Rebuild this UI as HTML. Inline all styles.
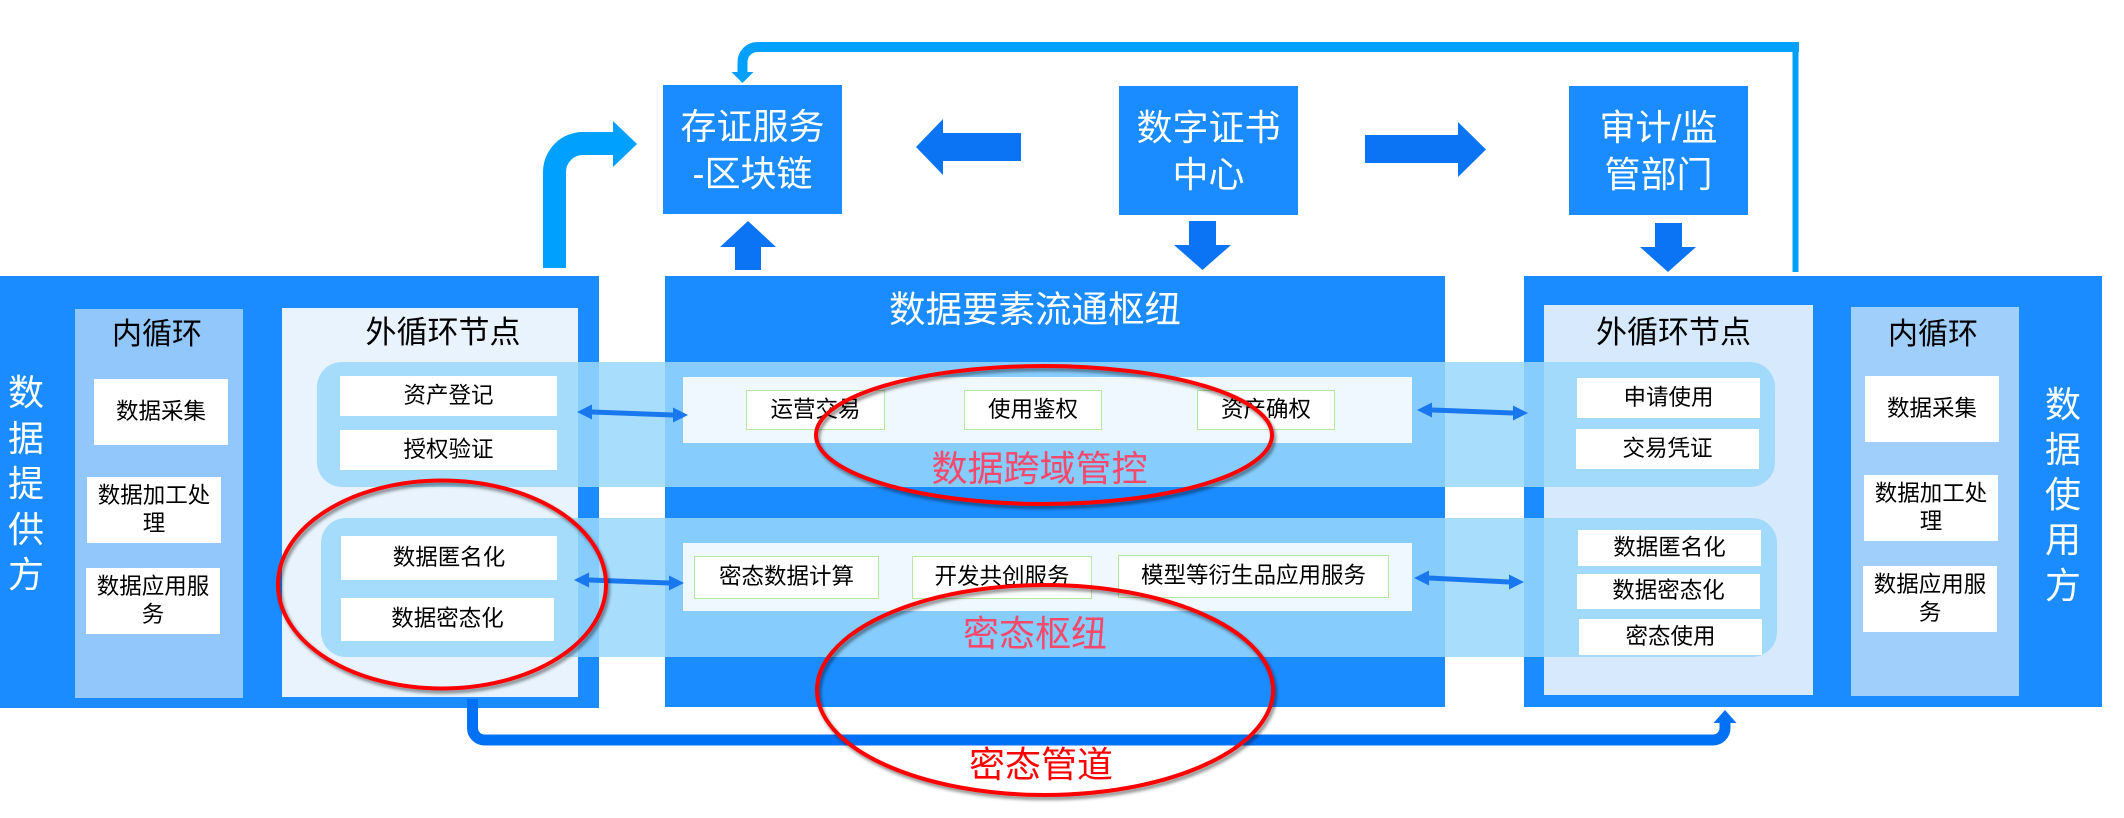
<!DOCTYPE html>
<html><head><meta charset="utf-8">
<style>
*{box-sizing:border-box;margin:0;padding:0}
body{width:2124px;height:818px;position:relative;overflow:hidden;background:#fff;font-family:"Liberation Sans","Noto Sans CJK SC",sans-serif;}
.a{position:absolute}
.blue{background:#1a8cff}
.box{position:absolute;display:flex;align-items:center;justify-content:center;text-align:center;color:#000;font-size:22.5px;line-height:28.5px;background:#fff;white-space:nowrap}
.g{border:1.5px solid #b5e8a0}
.tb{position:absolute;display:flex;align-items:center;justify-content:center;text-align:center;color:#fff;font-size:36px;line-height:47px;background:#1a8cff;white-space:nowrap}
.t{position:absolute;white-space:nowrap;text-align:center}
.band{position:absolute;border-radius:25px;background:rgba(153,215,251,0.855)}
</style></head><body>

<!-- big panels -->
<div class="a blue" style="left:0;top:276px;width:599px;height:432px"></div>
<div class="a" style="left:75px;top:309px;width:168px;height:389px;background:#91c7fb"></div>
<div class="a" style="left:282px;top:308px;width:296px;height:389px;background:#e8f3fd"></div>
<div class="a blue" style="left:665px;top:276px;width:780px;height:431px"></div>
<div class="a blue" style="left:1524px;top:276px;width:578px;height:431px"></div>
<div class="a" style="left:1544px;top:305px;width:269px;height:390px;background:#d6e9fd"></div>
<div class="a" style="left:1851px;top:307px;width:168px;height:389px;background:#a1cffc"></div>

<!-- top boxes -->
<div class="tb" style="left:663px;top:85px;width:179px;height:129px">存证服务<br>-区块链</div>
<div class="tb" style="left:1119px;top:86px;width:179px;height:129px">数字证书<br>中心</div>
<div class="tb" style="left:1569px;top:86px;width:179px;height:129px">审计/监<br>管部门</div>

<!-- titles -->
<div class="t" style="left:57px;top:317.5px;width:200px;font-size:30px;line-height:34px;color:#000">内循环</div>
<div class="t" style="left:343px;top:315.5px;width:200px;font-size:31px;line-height:34px;color:#000">外循环节点</div>
<div class="t" style="left:1573.5px;top:315.5px;width:200px;font-size:31px;line-height:34px;color:#000">外循环节点</div>
<div class="t" style="left:1833px;top:317.5px;width:200px;font-size:30px;line-height:34px;color:#000">内循环</div>
<div class="t" style="left:835px;top:290px;width:400px;font-size:36.5px;line-height:40px;color:#fff">数据要素流通枢纽</div>

<!-- vertical side texts -->
<div class="t" style="left:6px;top:370px;width:40px;font-size:36px;line-height:45.5px;color:#fff">数<br>据<br>提<br>供<br>方</div>
<div class="t" style="left:2043px;top:381.5px;width:40px;font-size:36px;line-height:45.3px;color:#fff">数<br>据<br>使<br>用<br>方</div>

<!-- inner loop items -->
<div class="box" style="left:94px;top:379px;width:134px;height:66px">数据采集</div>
<div class="box" style="left:87px;top:477px;width:134px;height:66px">数据加工处<br>理</div>
<div class="box" style="left:86px;top:568px;width:134px;height:66px">数据应用服<br>务</div>
<div class="box" style="left:1865px;top:376px;width:134px;height:66px">数据采集</div>
<div class="box" style="left:1864px;top:475px;width:134px;height:66px">数据加工处<br>理</div>
<div class="box" style="left:1863px;top:566px;width:134px;height:66px">数据应用服<br>务</div>

<!-- bands -->
<div class="band" style="left:317px;top:362px;width:1458px;height:125px"></div>
<div class="band" style="left:321px;top:518px;width:1456px;height:139px"></div>

<!-- middle row boxes -->
<div class="a" style="left:683px;top:377px;width:729px;height:66px;background:#f0f8ff"></div>
<div class="a" style="left:683px;top:543px;width:729px;height:68px;background:#f0f8ff"></div>

<!-- left outer items -->
<div class="box" style="left:340px;top:376px;width:217px;height:40px">资产登记</div>
<div class="box" style="left:340px;top:430px;width:217px;height:40px">授权验证</div>
<div class="box" style="left:341px;top:536px;width:216px;height:44px">数据匿名化</div>
<div class="box" style="left:341px;top:598px;width:213px;height:43px">数据密态化</div>

<!-- middle items -->
<div class="box g" style="left:746px;top:390px;width:139px;height:40px">运营交易</div>
<div class="box g" style="left:964px;top:390px;width:138px;height:40px">使用鉴权</div>
<div class="box g" style="left:1197px;top:390px;width:138px;height:40px">资产确权</div>
<div class="box g" style="left:694px;top:556px;width:185px;height:43px">密态数据计算</div>
<div class="box g" style="left:912px;top:556px;width:180px;height:43px">开发共创服务</div>
<div class="box g" style="left:1118px;top:555px;width:271px;height:43px">模型等衍生品应用服务</div>

<!-- right outer items -->
<div class="box" style="left:1577px;top:378px;width:183px;height:40px">申请使用</div>
<div class="box" style="left:1576px;top:429px;width:183px;height:40px">交易凭证</div>
<div class="box" style="left:1578px;top:530px;width:183px;height:36px">数据匿名化</div>
<div class="box" style="left:1577px;top:574px;width:183px;height:35px">数据密态化</div>
<div class="box" style="left:1579px;top:619px;width:183px;height:36px">密态使用</div>

<!-- red labels -->
<div class="t" style="left:839.5px;top:448.7px;width:400px;font-size:36px;line-height:40px;color:#f5486a">数据跨域管控</div>
<div class="t" style="left:835px;top:613.7px;width:400px;font-size:36px;line-height:40px;color:#f5486a">密态枢纽</div>
<div class="t" style="left:841px;top:744.7px;width:400px;font-size:36px;line-height:40px;color:#ff0000">密态管道</div>

<svg class="a" style="left:0;top:0" width="2124" height="818" xmlns="http://www.w3.org/2000/svg">
<defs>
<filter id="sh" x="-10%" y="-10%" width="125%" height="135%">
<feDropShadow dx="2" dy="3" stdDeviation="1.5" flood-color="#000" flood-opacity="0.45"/>
</filter>
</defs>
<!-- top connector -->
<path d="M1795.5 272 V44" stroke="#00a0ff" stroke-width="6" fill="none"/>
<path d="M1799 47 H757.5 A15 15 0 0 0 742.5 62 V73" stroke="#00a0ff" stroke-width="10" fill="none"/>
<polygon points="731.5,72 753.5,72 742.5,83" fill="#00a0ff"/>
<!-- curved arrow left panel -> 存证 -->
<path d="M554.5 268 V172 A28.5 28.5 0 0 1 583 143.5 H614" stroke="#00a0ff" stroke-width="23" fill="none"/>
<polygon points="613,121 637,144 613,167" fill="#00a0ff"/>
<!-- up arrow -->
<polygon points="735,270 761,270 761,247 776,247 748,221 720,247 735,247" fill="#0a74f5"/>
<!-- left arrow -->
<polygon points="1021,133 943,133 943,119 916,147 943,175 943,161 1021,161" fill="#0a74f5"/>
<!-- right arrow -->
<polygon points="1365,135 1458,135 1458,122 1486,149.5 1458,177 1458,163 1365,163" fill="#0a74f5"/>
<!-- down arrows -->
<polygon points="1189,221 1216,221 1216,245 1231,245 1202.5,270 1174,245 1189,245" fill="#0a74f5"/>
<polygon points="1655,223 1682,223 1682,247 1696,247 1668,272 1640,247 1655,247" fill="#0a74f5"/>
<!-- bottom connector -->
<path d="M472.5 699 V728 A12 12 0 0 0 484.5 740 H1713 A12 12 0 0 0 1725 728 V722" stroke="#0070f5" stroke-width="11" fill="none"/>
<polygon points="1713.5,723 1736.5,723 1725,710" fill="#0070f5"/>
<!-- double arrows -->
<g fill="#1a78ee">
<polygon points="577,412 592,404.5 592,409.5 673,412.5 673,407.5 688,415 673,422.5 673,417.5 592,414.5 592,419.5"/>
<polygon points="1417,410 1432,402.5 1432,407.5 1513,410.5 1513,405.5 1528,413 1513,420.5 1513,415.5 1432,412.5 1432,417.5"/>
<polygon points="574,580 589,572.5 589,577.5 669,580.5 669,575.5 684,583 669,590.5 669,585.5 589,582.5 589,587.5"/>
<polygon points="1414,578 1429,570.5 1429,575.5 1509,579.5 1509,574.5 1524,582 1509,589.5 1509,584.5 1429,580.5 1429,585.5"/>
</g>
<!-- red ellipses -->
<g fill="none" stroke="#ff0000" stroke-width="4" filter="url(#sh)">
<ellipse cx="1044" cy="435" rx="228" ry="69"/>
<ellipse cx="1045" cy="690" rx="228" ry="105"/>
<ellipse cx="442" cy="584.5" rx="164" ry="104"/>
</g>
</svg>
</body></html>
